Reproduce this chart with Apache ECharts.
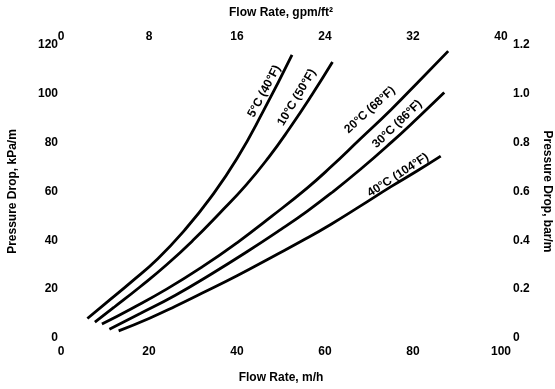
<!DOCTYPE html>
<html>
<head>
<meta charset="utf-8">
<script src="https://cdn.jsdelivr.net/npm/echarts@6/dist/echarts.min.js"></script>
<style>
html,body{margin:0;padding:0;background:#fff;}
#c{width:555px;height:389px;}
</style>
</head>
<body>
<div id="c"></div>
<script>
// ---- data ----
var bottomTicks = [0, 20, 40, 60, 80, 100];      // Flow Rate, m/h
var topTicks = [0, 8, 16, 24, 32, 40];           // Flow Rate, gpm/ft2
var leftTicks = [0, 20, 40, 60, 80, 100, 120];   // kPa/m
var rightTicks = [0, 0.2, 0.4, 0.6, 0.8, 1.0, 1.2]; // bar/m

var curveNames = ['5°C (40°F)', '10°C (50°F)', '20°C (68°F)', '30°C (86°F)', '40°C (104°F)'];
var c5 = [[6,8],[10,14],[16,23],[22,32.5],[28,44],[34,57.5],[40,73.5],[46,93],[52.5,116]];
var c10 = [[7.7,6.5],[12,12.5],[18,21],[24,30],[30,40],[36,51],[42,62.5],[47.2,74],[52,86],[57,99.5],[61.7,113]];
var c20 = [[9.3,5.7],[16,12],[24,20],[32,29],[40,39],[48,50],[56,61.5],[61.3,70],[68,81.5],[75,93.5],[81.8,106],[88,117.5]];
var c30 = [[11,3.6],[18,10],[26,17.5],[34,26],[42,35],[50,44.5],[56,52],[61.3,59.2],[68,69],[75,80],[81,90],[87.1,100.5]];
var c40 = [[13.1,2.9],[20,8],[26,13],[32,18.3],[40,25.5],[48,33.2],[55,40],[61.3,46.5],[68,54],[75,62],[81,68.5],[86.3,74.5]];
var curves = [c5, c10, c20, c30, c40];

// label anchors in data coordinates and angle (deg)
var labelAnchors = [[46.2,101],[53.6,98.5],[70.2,93.4],[76.4,87.6],[76.6,66.7]];
var labelAngles = [62, 59, 42, 44, 33];

var FONT = '"Liberation Sans", Arial, Helvetica, sans-serif';
var chart = echarts.init(document.getElementById('c'), null, {renderer: 'canvas'});

var lblStyle = {color: '#000', fontFamily: FONT, fontWeight: 'bold', fontSize: 12};

var series = curves.map(function (d, i) {
  return {
    type: 'line', name: curveNames[i], data: d, xAxisIndex: 0, yAxisIndex: 0,
    showSymbol: false, smooth: 0.5, lineStyle: {color: '#000', width: 2.8},
    silent: true, animation: false
  };
});

var option = {
  backgroundColor: '#fff',
  animation: false,
  grid: {left: 61, right: 54, top: 45, bottom: 51, containLabel: false, outerBoundsMode: 'none'},
  xAxis: [
    {type: 'value', position: 'bottom', min: bottomTicks[0], max: bottomTicks[bottomTicks.length-1], interval: 20,
     axisLine: {show: false}, axisTick: {show: false}, splitLine: {show: false},
     axisLabel: Object.assign({margin: 8}, lblStyle),
     name: 'Flow Rate, m/h', nameLocation: 'middle', nameGap: 34,
     nameTextStyle: {color: '#000', fontFamily: FONT, fontWeight: 'bold', fontSize: 12}},
    {type: 'value', position: 'top', min: topTicks[0], max: topTicks[topTicks.length-1], interval: 8,
     axisLine: {show: false}, axisTick: {show: false}, splitLine: {show: false},
     axisLabel: Object.assign({margin: 2}, lblStyle),
     name: 'Flow Rate, gpm/ft²', nameLocation: 'middle', nameGap: 26,
     nameTextStyle: {color: '#000', fontFamily: FONT, fontWeight: 'bold', fontSize: 12}}
  ],
  yAxis: [
    {type: 'value', position: 'left', min: leftTicks[0], max: leftTicks[leftTicks.length-1], interval: 20,
     axisLine: {show: false}, axisTick: {show: false}, splitLine: {show: false},
     axisLabel: Object.assign({margin: 3}, lblStyle),
     name: 'Pressure Drop, kPa/m', nameLocation: 'middle', nameGap: 42,
     nameTextStyle: {color: '#000', fontFamily: FONT, fontWeight: 'bold', fontSize: 12}},
    {type: 'value', position: 'right', min: rightTicks[0], max: rightTicks[rightTicks.length-1], interval: 0.2,
     axisLine: {show: false}, axisTick: {show: false}, splitLine: {show: false},
     axisLabel: Object.assign({margin: 12, formatter: function (v) { return v === 0 ? '0' : v.toFixed(1); }}, lblStyle),
     name: 'Pressure Drop, bar/m', nameLocation: 'middle', nameGap: 40, nameRotate: -90,
     nameTextStyle: {color: '#000', fontFamily: FONT, fontWeight: 'bold', fontSize: 12}}
  ],
  series: series
};
chart.setOption(option);

var graphics = labelAnchors.map(function (p, i) {
  var px = chart.convertToPixel({xAxisIndex: 0, yAxisIndex: 0}, p);
  return {
    type: 'text', x: px[0], y: px[1], rotation: labelAngles[i] * Math.PI / 180, silent: true,
    style: {text: curveNames[i], fill: '#000', font: 'bold 12px ' + FONT,
            align: 'center', verticalAlign: 'middle', textAlign: 'center', textVerticalAlign: 'middle'}
  };
});
chart.setOption({graphic: graphics});
</script>
</body>
</html>
